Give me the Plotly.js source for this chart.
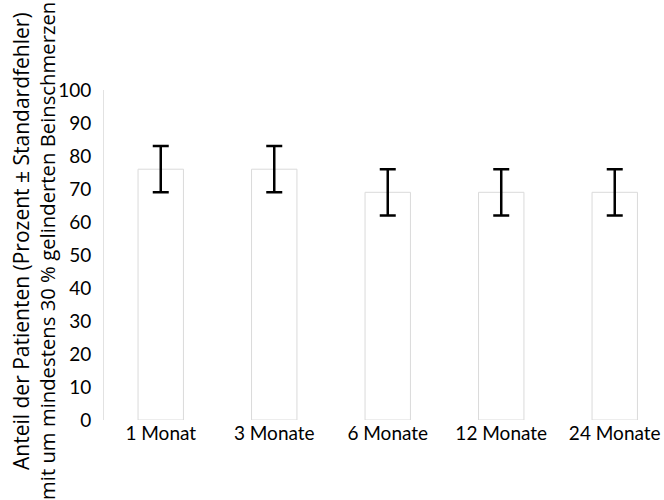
<!DOCTYPE html>
<html>
<head>
<meta charset="utf-8">
<script src="https://cdn.plot.ly/plotly-3.0.1.min.js"></script>
<style>html,body{margin:0;padding:0;background:#fff;}#chart{width:664px;height:500px;}</style>
</head>
<body>
<div id="chart"></div>
<script>
const categories = ["1 Monat", "3 Monate", "6 Monate", "12 Monate", "24 Monate"];
const percentValues = [76, 76, 69, 69, 69];
const standardErrors = [7, 7, 7, 7, 7];
const yTickValues = [0, 10, 20, 30, 40, 50, 60, 70, 80, 90, 100];
const yTitleLines = [
  "Anteil der Patienten (Prozent ± Standardfehler)",
  "mit um mindestens 30 % gelinderten Beinschmerzen"
];

const trace = {
  type: "bar",
  x: categories.map((c, i) => i),
  y: percentValues,
  width: 0.4,
  marker: { color: "#ffffff", line: { color: "#dadada", width: 1 } },
  error_y: { type: "data", array: standardErrors, visible: true, color: "#000000", thickness: 2.5, width: 8 },
  hoverinfo: "none"
};

// plot area in pixels: left 104, width 560, top 90, height 330
const px2x = p => (p - 104) / 560;
const px2y = p => (420 - p) / 330;

const layout = {
  width: 664, height: 500,
  margin: { l: 104, r: 0, t: 90, b: 80 },
  paper_bgcolor: "#ffffff", plot_bgcolor: "#ffffff",
  showlegend: false,
  font: { family: "Lato, 'Open Sans', sans-serif", color: "#000000" },
  xaxis: {
    range: [-0.5, 4.434],
    tickmode: "array",
    tickvals: categories.map((c, i) => i),
    ticktext: categories,
    tickfont: { family: "Lato, sans-serif", size: 19, color: "#000" },
    showgrid: false, zeroline: false, showline: false, ticks: "",
    automargin: false, fixedrange: true
  },
  yaxis: {
    range: [0, 100],
    tickmode: "array",
    tickvals: yTickValues,
    tickfont: { family: "Lato, sans-serif", size: 19, color: "#000" },
    showgrid: false, zeroline: false,
    showline: true, linecolor: "#e2e2e2", linewidth: 1,
    ticks: "", ticklabelstandoff: 8,
    automargin: false, fixedrange: true
  },
  annotations: [
    { text: yTitleLines[0], xref: "paper", yref: "paper", x: px2x(21), y: px2y(241),
      xanchor: "center", yanchor: "middle", textangle: -90, showarrow: false,
      font: { family: "'Open Sans', sans-serif", size: 21, color: "#000" } },
    { text: yTitleLines[1], xref: "paper", yref: "paper", x: px2x(47), y: px2y(251),
      xanchor: "center", yanchor: "middle", textangle: -90, showarrow: false,
      font: { family: "'Open Sans', sans-serif", size: 20.3, color: "#000" } }
  ]
};

Plotly.newPlot("chart", [trace], layout, { staticPlot: true, displayModeBar: false });
</script>
</body>
</html>
